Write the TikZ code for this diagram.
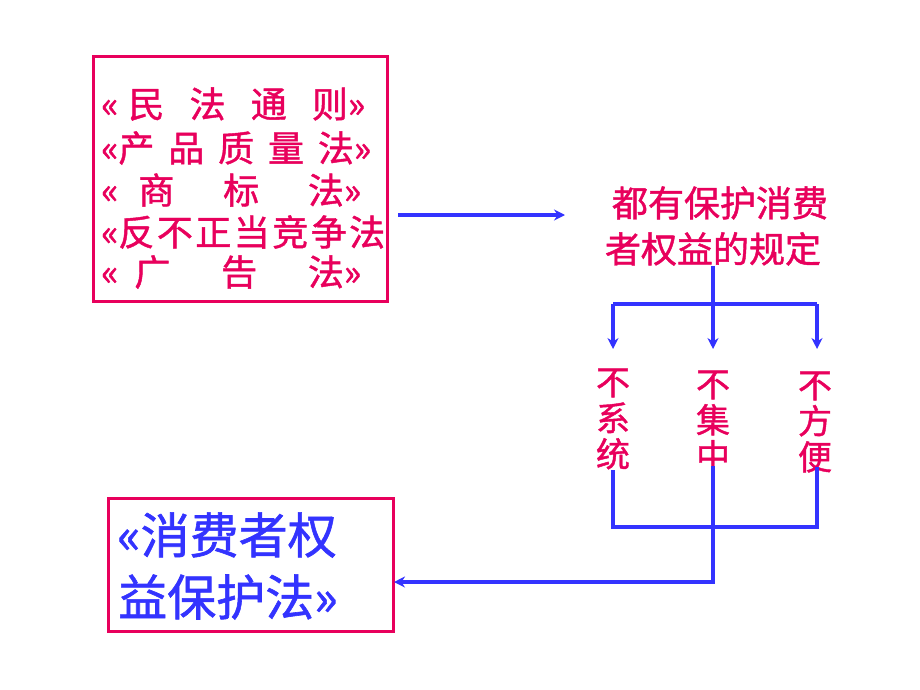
\documentclass[tikz,border=0pt]{standalone}
\usepackage{fontspec}
\setmainfont{Noto Sans CJK SC}[BoldFont={Noto Sans CJK SC}, BoldFeatures={FakeBold=1.2}]
\usetikzlibrary{arrows.meta}
\definecolor{pk}{RGB}{232,0,92}
\definecolor{bl}{RGB}{51,51,255}
\begin{document}
\begin{tikzpicture}[x=1pt,y=-1pt,
  frame/.style={draw=pk, line width=3pt, inner sep=0pt, anchor=north west},
  lawtxt/.style={text=pk, font=\fontsize{36}{36}\selectfont\bfseries, inner sep=0pt, anchor=west},
  ruletxt/.style={text=pk, font=\fontsize{36}{46}\selectfont\bfseries, inner sep=0pt, align=center},
  deftxt/.style={text=pk, font=\fontsize{34}{36}\selectfont\bfseries, inner sep=0pt, align=center},
  cpltxt/.style={text=bl, font=\fontsize{49}{49}\selectfont\bfseries, inner sep=0pt, anchor=west},
  conn/.style={draw=bl, line width=3.5pt},
  arr/.style={conn, -{Stealth[length=11pt,width=11pt]}}]
\useasboundingbox (0,0) rectangle (920,690);
% box 1
\node[frame, minimum width=294pt, minimum height=245pt] (lawbox) at (92,55) {};
\node[lawtxt] (l1) at (101,104) {\hbox to 264pt{«\hspace{10pt}民\hfill 法\hfill 通\hfill 则»}};
\node[lawtxt] (l2) at (101,148) {\hbox to 270pt{«产\hfill 品\hfill 质\hfill 量\hfill 法»}};
\node[lawtxt] (l3) at (101,190) {\hbox to 260pt{«\hspace{20pt}商\hfill 标\hfill 法»}};
\node[lawtxt] (l4) at (101,232) {\hbox to 284pt{«反\hfill 不\hfill 正\hfill 当\hfill 竞\hfill 争\hfill 法}};
\node[lawtxt] (l5) at (101,272) {\hbox to 260pt{«\hspace{16pt}广\hfill 告\hfill 法»}};
% arrow 1
\coordinate (a1s) at (398,215);
\coordinate (a1e) at (565,215);
\draw[arr] (a1s) -- (a1e);
% rule text
\node[ruletxt] (rule) at (713,226) {\hspace*{14pt}都有保护消费\\者权益的规定};
% tree
\coordinate (sL) at (613,304);
\coordinate (sM) at (713,304);
\coordinate (sR) at (817,304);
\coordinate (tL) at (613,349);
\coordinate (tM) at (713,349);
\coordinate (tR) at (817,349);
\draw[conn] (rule.south) -- (sM);
\draw[conn] (sL) -- (sR);
\draw[arr] (sL) -- (tL);
\draw[arr] (sM) -- (tM);
\draw[arr] (sR) -- (tR);
% three defects
\node[deftxt] (c1) at (613,419) {不\\系\\统};
\node[deftxt] (c2) at (713,421) {不\\集\\中};
\node[deftxt] (c3) at (815,422) {不\\方\\便};
% joins
\coordinate (eL) at (613,470);
\coordinate (eM) at (713,466);
\coordinate (eR) at (817,467);
\coordinate (bL) at (613,527);
\coordinate (bR) at (817,527);
\draw[conn, line join=miter] (eL) -- (bL) -- (bR) -- (eR);
% box 2
\node[frame, minimum width=285pt, minimum height=133pt] (cpl) at (107,497) {};
\node[cpltxt] (cp1) at (117,535) {«消费者权};
\node[cpltxt] (cp2) at (118,597) {益保护法»};
\coordinate (aIn) at (394,582);
\draw[arr, line join=miter] (eM) |- (aIn);
\end{tikzpicture}
\end{document}
